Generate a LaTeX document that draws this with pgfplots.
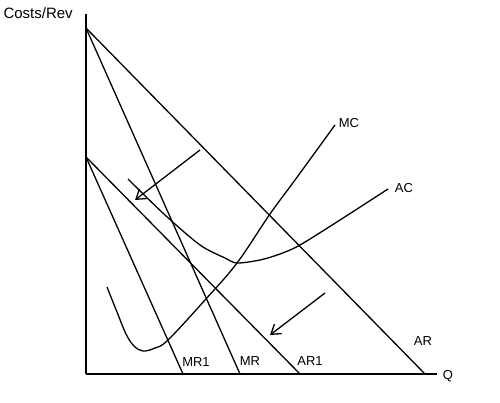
\documentclass[border=0pt]{standalone}
\usepackage{fontspec}
\setmainfont{Liberation Sans}
\usepackage{pgfplots}
\pgfplotsset{compat=1.18}
\usetikzlibrary{arrows.meta}
\begin{document}
\begin{tikzpicture}
\begin{axis}[
  scale only axis, width=500pt, height=403pt,
  xmin=0, xmax=500, ymin=0, ymax=403, y dir=reverse,
  hide axis, clip=false,
  every axis plot post/.append style={black, solid, mark=none, line width=1.3pt},
]
\path[draw=none] (rel axis cs:0,0) rectangle (rel axis cs:1,1);
% axes
\addplot coordinates {(86,14) (86,374)};
\addplot coordinates {(86,374) (437,374)};
% AR and MR
\addplot coordinates {(86,28) (425,374)};
\addplot coordinates {(86,28) (240,374)};
% AR1 and MR1
\addplot coordinates {(86,157) (300,374)};
\addplot coordinates {(86,157) (183,374)};
% AC
\addplot+[smooth, tension=0.5] coordinates {(128,179) (165,215) (200,245) (225,258) (237,263) (260,260) (280,254) (300,245) (340,220) (388,189)};
% MC
\addplot+[smooth, tension=0.6] coordinates {(107,287) (117,312) (126,334) (134,346) (143,351) (155,348) (168,340) (205,300) (237,263) (270,214) (295,180) (335,125)};
% arrows
\addplot+[-{Straight Barb[length=9pt,width=12pt]}] coordinates {(200,150) (135,200)};
\addplot+[-{Straight Barb[length=9pt,width=12pt]}] coordinates {(325,293) (270,335)};
% labels
\node[anchor=west, font=\fontsize{15}{17}\selectfont] at (axis cs:0,13) {Costs/Rev};
\node[font=\fontsize{13}{15}\selectfont] at (axis cs:349,123) {MC};
\node[font=\fontsize{13}{15}\selectfont] at (axis cs:404,188) {AC};
\node[font=\fontsize{13}{15}\selectfont] at (axis cs:423,341) {AR};
\node[font=\fontsize{13}{15}\selectfont] at (axis cs:196,362) {MR1};
\node[font=\fontsize{13}{15}\selectfont] at (axis cs:250,361) {MR};
\node[font=\fontsize{13}{15}\selectfont] at (axis cs:310,361) {AR1};
\node[font=\fontsize{13}{15}\selectfont] at (axis cs:448,376) {Q};
\end{axis}
\end{tikzpicture}
\end{document}
